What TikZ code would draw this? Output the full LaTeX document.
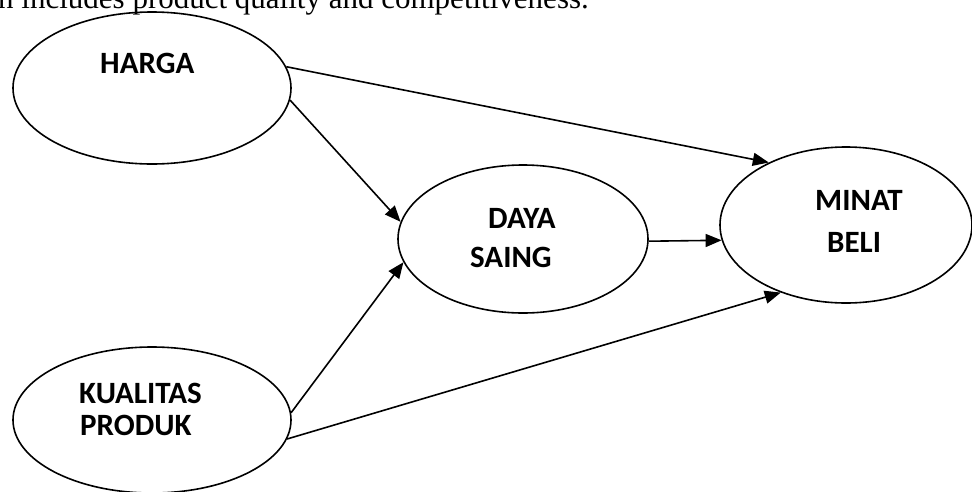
\documentclass[tikz,border=0pt]{standalone}
\usepackage{fontspec}
\setmainfont{Liberation Serif}
\newfontfamily\labelfont{Carlito}
\usetikzlibrary{arrows.meta,shapes.geometric}

\tikzset{
  construct/.style={draw, ellipse, line width=1.6pt, inner sep=0pt},
  caption/.style={font=\labelfont\bfseries\fontsize{31}{36}\selectfont, inner sep=0pt, anchor=west},
  link/.style={line width=1.6pt, -{Triangle[length=16pt,width=13pt]}},
}

\begin{document}
\begin{tikzpicture}[x=1pt, y=-1pt]
  \useasboundingbox (0,0) rectangle (972,491);
  \clip (0,0) rectangle (972,491);

  % running text of the page above the figure
  \node[anchor=base west, inner sep=0pt, font=\fontsize{31}{36}\selectfont] (body) at (-2,8)
    {n includes product quality and competitiveness.};

  % constructs
  \node[construct, minimum width=278pt, minimum height=152pt] (harga) at (152,88) {};
  \node[construct, minimum width=278pt, minimum height=146pt] (kualitas) at (152,420) {};
  \node[construct, minimum width=250pt, minimum height=148pt] (daya) at (523,239) {};
  \node[construct, minimum width=252pt, minimum height=156pt] (minat) at (846,225) {};

  % labels
  \node[caption] (tharga) at (100,63) {HARGA};
  \node[caption] (tdaya) at (488,218) {DAYA};
  \node[caption] (tsaing) at (470,257) {SAING};
  \node[caption] (tminat) at (815,200) {MINAT};
  \node[caption] (tbeli) at (827,242) {BELI};
  \node[caption] (tkualitas) at (79,393) {KUALITAS};
  \node[caption] (tproduk) at (80,425) {PRODUK};

  % paths
  \draw[link] (harga.9) -- (minat.141);
  \draw[link] (harga.-5) -- (daya.172);
  \draw[link] (kualitas.3) -- (daya.191);
  \draw[link] (kualitas.-8) -- (minat.226);
  \draw[link] (daya.-1) -- (minat.187.5);
\end{tikzpicture}
\end{document}
